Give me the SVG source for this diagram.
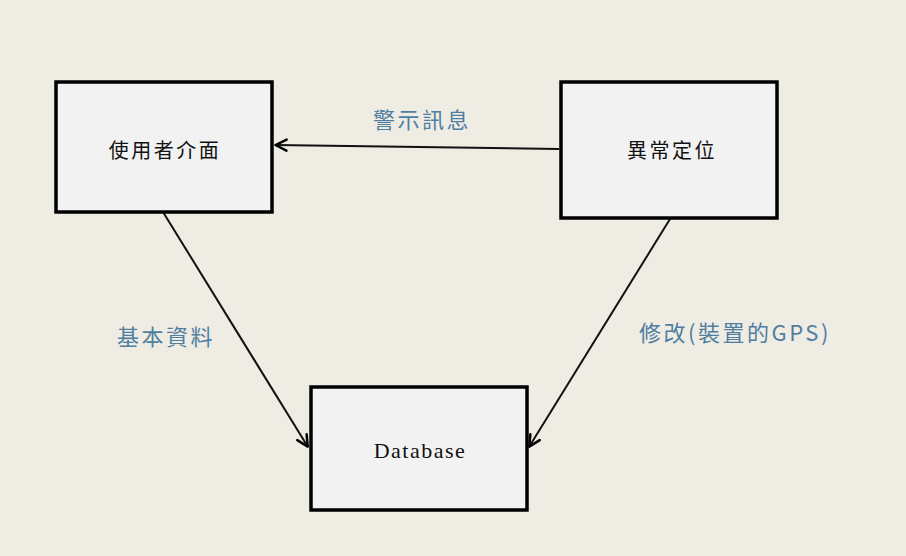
<svg xmlns="http://www.w3.org/2000/svg" width="906" height="556" viewBox="0 0 906 556">
<style>
.box{fill:#f2f2f2;stroke:#000;stroke-width:3.5}
.nt{font-family:"Noto Sans CJK TC","Liberation Serif",serif;font-size:20px;letter-spacing:2.5px;fill:#111;text-anchor:middle;dominant-baseline:central}
.lb{font-family:"Noto Sans CJK TC","Liberation Serif",serif;font-size:22px;letter-spacing:2.5px;fill:#4f7fa0;text-anchor:middle;dominant-baseline:central}
.cn{stroke:#111;stroke-width:2;fill:none}
</style>
<defs>
<marker id="ah" viewBox="0 0 14 14" refX="13" refY="7" markerWidth="14" markerHeight="14" markerUnits="userSpaceOnUse" orient="auto">
<path d="M1.5,1.5 L12.5,7 L1.5,12.5" fill="none" stroke="#000" stroke-width="2.5" stroke-linecap="round" stroke-linejoin="round"/>
</marker>
</defs>
<rect width="906" height="556" fill="#efece4"/>
<g id="connectors">
<line class="cn" x1="559" y1="149" x2="275" y2="145" marker-end="url(#ah)"/>
<line class="cn" x1="163" y1="212" x2="308" y2="447" marker-end="url(#ah)"/>
<line class="cn" x1="670" y1="219" x2="529" y2="447" marker-end="url(#ah)"/>
<text class="lb" x="422" y="118">警示訊息</text>
<text class="lb" x="166" y="335">基本資料</text>
<text class="lb" x="735" y="331">修改(裝置的GPS)</text>
</g>
<g id="ui">
<rect class="box" x="56" y="82" width="216" height="130"/>
<text class="nt" x="165" y="149">使用者介面</text>
</g>
<g id="locate">
<rect class="box" x="561" y="82" width="216" height="136"/>
<text class="nt" x="672" y="149">異常定位</text>
</g>
<g id="db">
<rect class="box" x="311" y="387" width="216" height="123"/>
<text class="nt" x="420" y="450" style="font-family:'Liberation Serif',serif;font-size:22px;letter-spacing:1.5px">Database</text>
</g>
</svg>
